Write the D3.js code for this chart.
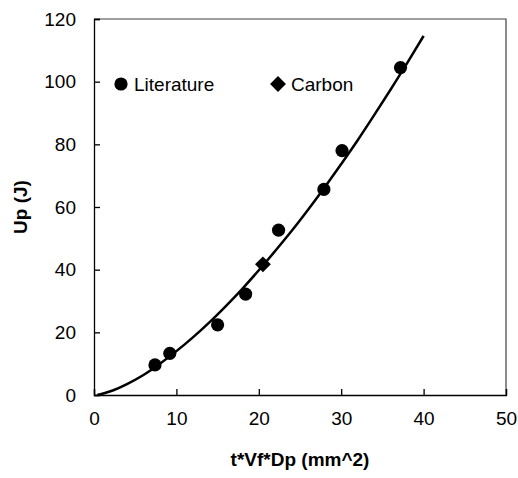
<!DOCTYPE html>
<html>
<head>
<meta charset="utf-8">
<script src="https://cdn.jsdelivr.net/npm/d3@7"></script>
<style>
  body { margin: 0; background: #fff; }
  svg text { font-family: Arial, "Liberation Sans", sans-serif; }
</style>
</head>
<body>
<svg width="518" height="478"></svg>
<script>
// Literature data points
var litX = [7.4, 9.2, 15.0, 18.4, 22.4, 27.9, 30.1, 37.2];
var litY = [9.6, 13.3, 22.4, 32.2, 52.6, 65.6, 78.0, 104.5];

// Carbon data point
var carbonX = [20.5];
var carbonY = [41.7];

// Trend line
var fitX = [0.4, 2, 4, 6, 8, 10, 12, 14, 16, 18, 20, 22, 24, 26, 28, 30, 32, 34, 36, 38, 40];
var fitY = [0, 1.2, 3.5, 6.4, 10.0, 14.0, 18.4, 23.2, 28.4, 33.9, 39.8, 46.0, 52.4, 59.2, 66.3, 73.7, 81.3, 89.3, 97.5, 105.9, 114.6];

// Axis ticks
var xTicks = [0, 10, 20, 30, 40, 50];
var yTicks = [0, 20, 40, 60, 80, 100, 120];

var svg = d3.select("svg"),
  margin = { top: 19, right: 12, bottom: 83, left: 94 },
  width = svg.attr("width") - margin.left - margin.right,
  height = svg.attr("height") - margin.top - margin.bottom;

var g = svg
  .append("g")
  .attr("transform", "translate(" + margin.left + "," + margin.top + ")");

var x = d3.scaleLinear().domain([0, 50]).range([0, width]);
var y = d3.scaleLinear().domain([0, 120]).range([height, 0]);

var fontSize = 19;

// frame (top and right)
g.append("path")
  .attr("d", "M0,0H" + width + "V" + height)
  .attr("fill", "none")
  .attr("stroke", "#404040")
  .attr("stroke-width", 1.2);

// x axis, ticks pointing inward
var xAxis = g
  .append("g")
  .attr("transform", "translate(0," + height + ")")
  .call(d3.axisBottom(x).tickValues(xTicks).tickSize(-6).tickPadding(17).tickFormat(d3.format("d")));

// y axis, ticks pointing inward
var yAxis = g
  .append("g")
  .call(d3.axisLeft(y).tickValues(yTicks).tickSize(-6).tickPadding(18).tickFormat(d3.format("d")));

[xAxis, yAxis].forEach(function (ax) {
  ax.select(".domain").attr("stroke", "#000").attr("stroke-width", 1.3);
  ax.selectAll(".tick line").attr("stroke", "#000").attr("stroke-width", 1.3);
  ax.selectAll(".tick text")
    .attr("fill", "#000")
    .style("font-size", fontSize + "px");
});

// axis titles
svg.append("text")
  .text("t*Vf*Dp (mm^2)")
  .attr("x", margin.left + width / 2)
  .attr("y", 466)
  .attr("text-anchor", "middle")
  .style("font-size", fontSize + "px")
  .style("font-weight", "bold");

svg.append("text")
  .text("Up (J)")
  .attr("transform", "translate(27," + (margin.top + height / 2) + ") rotate(-90)")
  .attr("text-anchor", "middle")
  .style("font-size", fontSize + "px")
  .style("font-weight", "bold");

// trend curve
var line = d3
  .line()
  .x(function (d, i) { return x(fitX[i]); })
  .y(function (d, i) { return y(fitY[i]); })
  .curve(d3.curveMonotoneX);

g.append("path")
  .datum(fitX)
  .attr("d", line)
  .attr("fill", "none")
  .attr("stroke", "#000")
  .attr("stroke-width", 2.5);

// literature circles
g.selectAll(".lit")
  .data(litX)
  .enter()
  .append("circle")
  .attr("class", "lit")
  .attr("cx", function (d) { return x(d); })
  .attr("cy", function (d, i) { return y(litY[i]); })
  .attr("r", 6.6)
  .attr("fill", "#000");

// carbon diamond
var diamond = d3.symbol().type(d3.symbolDiamond2).size(160);
g.selectAll(".carbon")
  .data(carbonX)
  .enter()
  .append("path")
  .attr("class", "carbon")
  .attr("d", diamond)
  .attr("transform", function (d, i) {
    return "translate(" + x(d) + "," + y(carbonY[i]) + ")";
  })
  .attr("fill", "#000");

// legend
var legend = g.append("g").attr("transform", "translate(0,65)");
legend.append("circle").attr("cx", 27).attr("cy", 0).attr("r", 6.6).attr("fill", "#000");
legend.append("text").text("Literature").attr("x", 40).attr("y", 7)
  .style("font-size", fontSize + "px");
legend.append("path").attr("d", diamond)
  .attr("transform", "translate(184,0)").attr("fill", "#000");
legend.append("text").text("Carbon").attr("x", 197).attr("y", 7)
  .style("font-size", fontSize + "px");
</script>
</body>
</html>
